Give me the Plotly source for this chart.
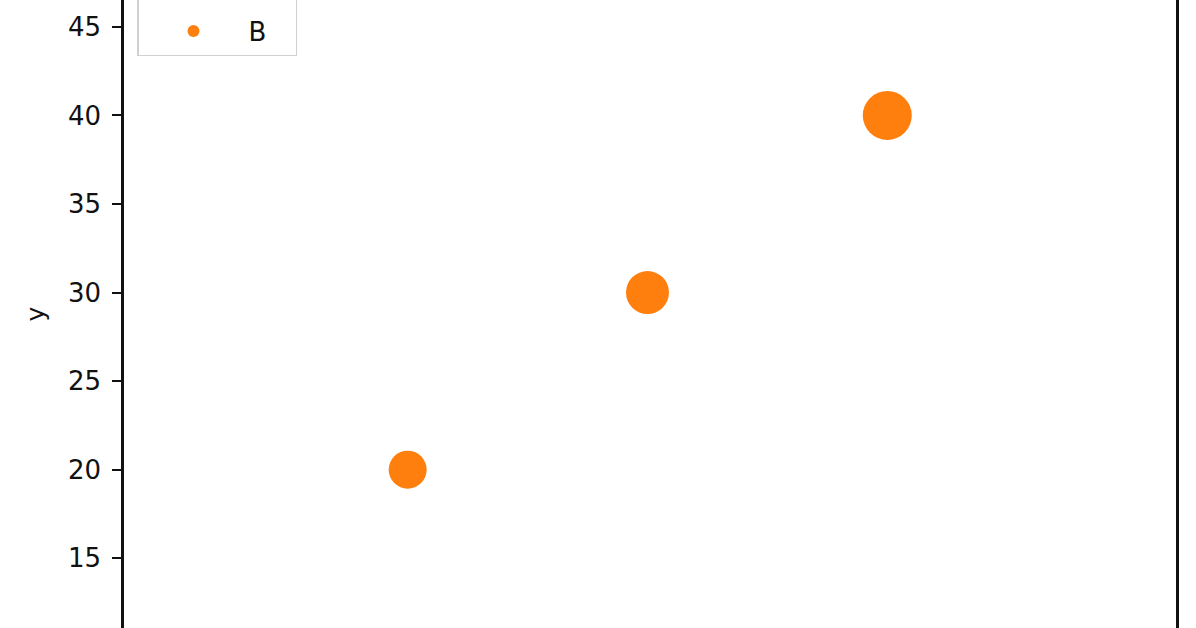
import plotly.graph_objects as go

# data
series_name = "B"
x_vals = [2, 3, 4]
y_vals = [20, 30, 40]
marker_px = [38, 43, 49]
y_ticks = [15, 20, 25, 30, 35, 40, 45]

fig = go.Figure()
fig.add_trace(go.Scatter(
    x=x_vals, y=y_vals, mode="markers", name=series_name,
    marker=dict(color="#ff7f0e", size=marker_px, line=dict(width=0), opacity=1),
))

fig.update_layout(
    width=1196, height=628,
    margin=dict(l=124, r=20, t=0, b=0, autoexpand=False),
    paper_bgcolor="white", plot_bgcolor="white",
    font=dict(family="DejaVu Sans", size=26, color="#111"),
    showlegend=True,
    legend=dict(
        x=(137 - 124) / (1196 - 144), y=1 - 56 / 628, xanchor="left", yanchor="bottom",
        bgcolor="rgba(255,255,255,0.8)", bordercolor="#d0d0d0", borderwidth=1.5,
        font=dict(size=26), itemsizing="constant",
        itemwidth=100,
        title=dict(text="\u00a0" * 12, font=dict(size=40)),
    ),
    xaxis=dict(range=[0.817, 5.204], showgrid=False, zeroline=False,
               showticklabels=False, ticks="", showline=False, automargin=False),
    yaxis=dict(range=[11.06, 46.52], tickvals=y_ticks, showgrid=False, zeroline=False,
               ticks="outside", ticklen=9, tickwidth=2, tickcolor="#111",
               showline=True, linecolor="#111", linewidth=2.5, mirror=True,
               ticklabelstandoff=6, automargin=False,
               title=dict(text="y", standoff=17, font=dict(size=25))),
)

fig.write_html(
    "out.html",
    config={"displayModeBar": False},
    post_script="document.body.style.margin='0';document.body.style.overflow='hidden';",
)
